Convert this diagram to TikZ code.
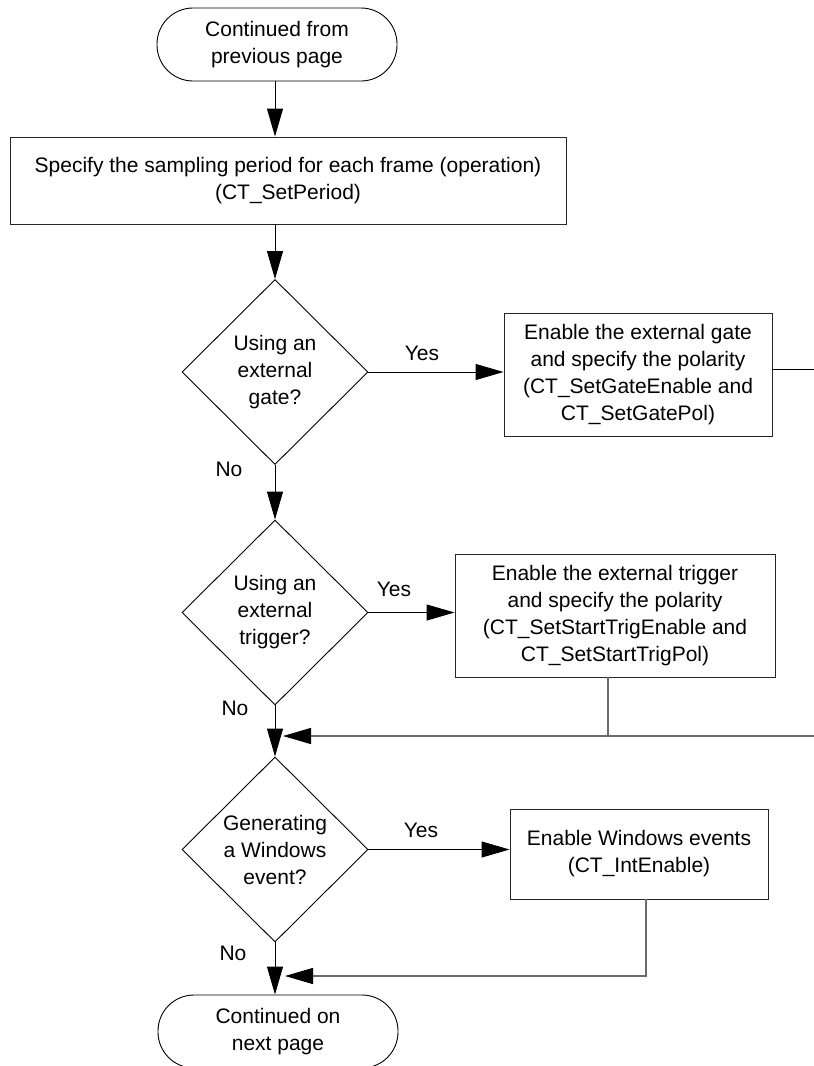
\documentclass[tikz,border=0pt]{standalone}
\usepackage{fontspec}
\setmainfont{Liberation Sans}
\usetikzlibrary{shapes.geometric,arrows.meta}
\begin{document}
\begin{tikzpicture}[x=1pt,y=-1pt,
  every node/.style={font=\fontsize{21}{27}\selectfont},
  term/.style={draw, rounded corners=36pt, minimum width=240pt, minimum height=73pt,
               align=center, line width=0.9pt},
  proc/.style={draw=black!85, align=center, line width=0.9pt, inner sep=0pt},
  decide/.style={draw, diamond, align=center, inner sep=0pt,
                 minimum width=186pt, minimum height=185pt, line width=0.9pt},
  tip/.style={-{Triangle[length=28pt,width=16pt,color=black]}},
  flow/.style={line width=1pt, tip},
  back/.style={line width=1.3pt, draw=black!58},
  lbl/.style={inner sep=0pt}
]
\useasboundingbox (0,0) rectangle (814,1066);

% terminators, process boxes and decisions
\node[term] (start) at (277,44.5) {Continued from\\previous page};
\node[proc, minimum width=556pt, minimum height=87pt] (period) at (288,180.5)
  {Specify the sampling period for each frame (operation)\\(CT\_SetPeriod)};

\node[decide] (q1) at (275,372) {Using an\\external\\gate?};
\node[proc, minimum width=268pt, minimum height=123pt] (gate) at (638,374.5)
  {Enable the external gate\\and specify the polarity\\(CT\_SetGateEnable and\\CT\_SetGatePol)};

\node[decide] (q2) at (275,612.5) {Using an\\external\\trigger?};
\node[proc, minimum width=320pt, minimum height=123pt] (trig) at (615,615.5)
  {Enable the external trigger\\and specify the polarity\\(CT\_SetStartTrigEnable and\\CT\_SetStartTrigPol)};

\node[decide] (q3) at (275,849.5) {Generating\\a Windows\\event?};
\node[proc, minimum width=258pt, minimum height=90pt] (win) at (639,854)
  {Enable Windows events\\(CT\_IntEnable)};

\node[term] (end) at (278,1031.5) {Continued on\\next page};

% branch labels
\node[lbl] (yes1) at (422,353) {Yes};
\node[lbl] (yes2) at (394,589) {Yes};
\node[lbl] (yes3) at (421,830) {Yes};
\node[lbl] (no1) at (229,469) {No};
\node[lbl] (no2) at (235,708) {No};
\node[lbl] (no3) at (233,953) {No};

% free ends and bends of the return lines
\coordinate (gx) at (814,369);
\coordinate (tx) at (814,736);
\coordinate (tb) at (608,736);
\coordinate (m1) at (283,736);
\coordinate (wb) at (646,976);
\coordinate (m2) at (285,976);

% main flow
\draw[flow] (start.south -| q1) -- (period.north -| q1);
\draw[flow] (period.south -| q1) -- (q1.north);
\draw[flow] (q1.east) -- (gate.west |- q1.east);
\draw[line width=1pt] (gate.east |- gx) -- (gx);
\draw[flow] (q1.south) -- (q2.north);
\draw[flow] (q2.east) -- (trig.west |- q2.east);
\draw[flow] (q2.south) -- (q3.north);
\draw[flow] (q3.east) -- (win.west |- q3.east);
\draw[flow] (q3.south) -- (q3.south |- end.north);

% return lines joining the main flow
\draw[back] (trig.south -| tb) -- (tb);
\draw[back, tip] (tx) -- (m1);
\draw[back, tip] (win.south -| wb) -- (wb) -- (m2);
\end{tikzpicture}
\end{document}
